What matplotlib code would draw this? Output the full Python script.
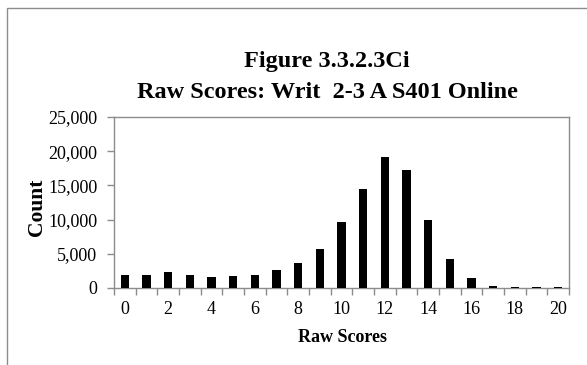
import matplotlib
matplotlib.use("Agg")
import matplotlib.pyplot as plt
from matplotlib.patches import Rectangle
from matplotlib.ticker import FuncFormatter

scores = list(range(21))
counts = [1950, 1950, 2400, 1950, 1600, 1750, 1950, 2600, 3650, 5650,
          9600, 14450, 19150, 17300, 9900, 4250, 1420, 300, 100, 100, 90]
xtick_labels = [str(s) for s in range(0, 21, 2)]
yticks = [0, 5000, 10000, 15000, 20000, 25000]

title1 = "Figure 3.3.2.3Ci"
title2 = "Raw Scores: Writ  2-3 A S401 Online"
xlabel = "Raw Scores"
ylabel = "Count"

W, H = 587, 365
plt.rcParams['font.family'] = ['Liberation Serif', 'DejaVu Serif']
fig = plt.figure(figsize=(W / 100, H / 100), dpi=100)

def fx(px):
    return px / W

def fy(py):
    return 1 - py / H

# outer border
fig.patches.append(Rectangle((fx(7), -0.1), 1.2, fy(8) + 0.1, transform=fig.transFigure,
                             fill=False, edgecolor='#8c8c8c', linewidth=1.0))

left, right, top, bottom = 114, 569, 117, 288
ax = fig.add_axes([fx(left), fy(bottom), fx(right - left), (bottom - top) / H])

ax.bar(scores, counts, width=0.385, color='black', zorder=3)
ax.set_xlim(-0.5, 20.5)
ax.set_ylim(0, 25000)

gray = '#8c8c8c'
for s in ax.spines.values():
    s.set_color(gray)
    s.set_linewidth(1.0)

ax.set_xticks([i - 0.5 for i in range(22)])
ax.set_xticklabels([])
ax.set_xticks(list(range(0, 21, 2)), minor=True)
ax.set_xticklabels(xtick_labels, minor=True)
ax.tick_params(axis='x', which='major', direction='out', length=5, color=gray, width=1)
ax.tick_params(axis='x', which='minor', length=0, pad=9, labelsize=13)

ax.set_yticks(yticks)
ax.yaxis.set_major_formatter(FuncFormatter(lambda v, p: f"{int(v):,}"))
ax.tick_params(axis='y', direction='out', length=5, color=gray, width=1, pad=7, labelsize=13)

fig.text(fx(327), fy(62), title1, ha='center', va='center', fontsize=17.5, fontweight='bold')
fig.text(fx(327), fy(92), title2, ha='center', va='center', fontsize=17.5, fontweight='bold')
fig.text(fx(342), fy(337), xlabel, ha='center', va='center', fontsize=13, fontweight='bold')
fig.text(fx(37), fy(207), ylabel, ha='center', va='center', fontsize=15.5, fontweight='bold', rotation=90)

fig.savefig("out.png", dpi=100)
